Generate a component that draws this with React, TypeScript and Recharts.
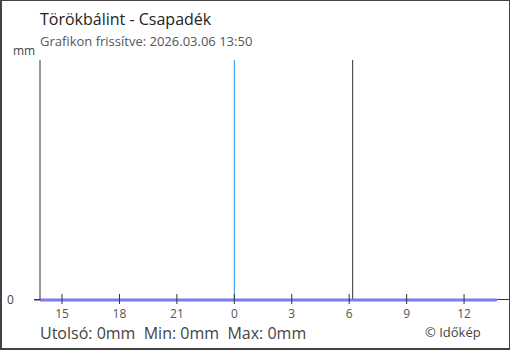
import { Line, LineChart, ReferenceLine, XAxis, YAxis } from "recharts";

// hours on a running clock: 24 = midnight, 37 = 13:00 next day
const hours = [13.85, 15, 16, 17, 18, 19, 20, 21, 22, 23, 24, 25, 26, 27, 28, 29, 30, 31, 32, 33, 34, 35, 36, 37, 37.72];
const precip = [0, 0, 0, 0, 0, 0, 0, 0, 0, 0, 0, 0, 0, 0, 0, 0, 0, 0, 0, 0, 0, 0, 0, 0, 0];
const xTicks = [15, 18, 21, 24, 27, 30, 33, 36];
const midnight = 24;
const nowMark = 30.18;

const FONT = "'Open Sans', 'Noto Sans', sans-serif";

const XTick = (props: any) => {
  const { x, payload } = props;
  const yy = 300;
  return (
    <g>
      <line x1={x} x2={x} y1={yy - 6} y2={yy + 4} stroke="#333" strokeWidth={1} />
      <text x={x} y={yy + 18} textAnchor="middle" fill="#555" fontSize={12} fontFamily={FONT}>
        {payload.value % 24}
      </text>
    </g>
  );
};

const YTick = (props: any) => {
  const { y, payload } = props;
  return (
    <text x={7} y={y + 4} fill="#444" fontSize={12} fontFamily={FONT}>
      {payload.value}
    </text>
  );
};

export default function App() {
  const data = hours.map((h, i) => ({ h, v: precip[i] }));
  return (
    <div style={{ position: "absolute", left: 0, top: 0, width: 510, height: 350, background: "#fff", fontFamily: FONT }}>
      <div style={{ position: "absolute", left: 34, top: 299, width: 476, height: 1, background: "#333" }} />
      <LineChart width={510} height={350} data={data} margin={{ top: 60, right: 13, bottom: 20, left: 0 }}>
        <XAxis
          dataKey="h"
          type="number"
          domain={[13.85, 37.72]}
          ticks={xTicks}
          tick={<XTick />}
          tickLine={false}
          axisLine={false}
          height={30}
          interval={0}
        />
        <YAxis
          domain={[0, 1]}
          ticks={[0]}
          width={40}
          tick={<YTick />}
          tickLine={{ stroke: "#333" }}
          tickSize={6}
          axisLine={{ stroke: "#333" }}
        />
        <ReferenceLine x={midnight} stroke="#2196f3" strokeWidth={1} />
        <ReferenceLine x={nowMark} stroke="#333" strokeWidth={1} />
        <Line
          dataKey="v"
          stroke="#7b7bf5"
          strokeWidth={3}
          dot={false}
          isAnimationActive={false}
        />
      </LineChart>
      <div style={{ position: "absolute", left: 40, top: 8, fontSize: 16, color: "#222" }}>Törökbálint - Csapadék</div>
      <div style={{ position: "absolute", left: 40, top: 32, fontSize: 13, color: "#555" }}>Grafikon frissítve: 2026.03.06 13:50</div>
      <div style={{ position: "absolute", left: 13, top: 42, fontSize: 12, color: "#444" }}>mm</div>
      <div style={{ position: "absolute", left: 40, top: 325, fontSize: 16, lineHeight: "16px", color: "#444", whiteSpace: "pre" }}>
        Utolsó: 0mm  Min: 0mm  Max: 0mm
      </div>
      <div style={{ position: "absolute", left: 425, top: 326, fontSize: 13, lineHeight: "13px", color: "#444" }}>© Időkép</div>
      <div
        style={{
          position: "absolute",
          left: 0,
          top: 0,
          width: 510,
          height: 350,
          boxSizing: "border-box",
          border: "1px solid #444",
          borderLeftWidth: 2,
          borderBottomWidth: 2,
          pointerEvents: "none",
        }}
      />
    </div>
  );
}
